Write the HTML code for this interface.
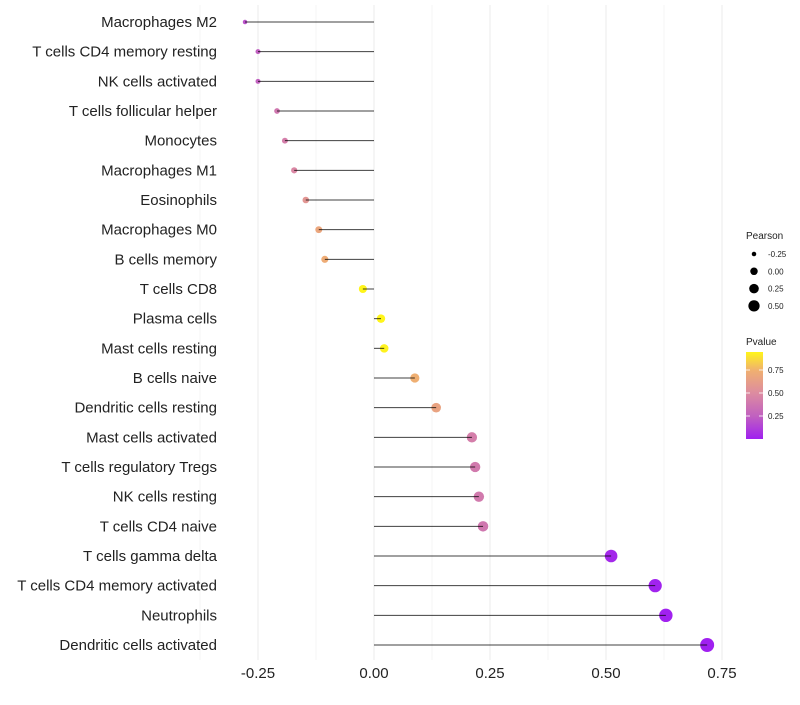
<!DOCTYPE html>
<html><head><meta charset="utf-8"><style>
body{margin:0;background:#fff;font-family:"Liberation Sans",sans-serif}
</style></head><body>
<svg id="chart" width="800" height="700" xmlns="http://www.w3.org/2000/svg" font-family="Liberation Sans, sans-serif">
<defs><linearGradient id="pg" x1="0" y1="1" x2="0" y2="0">
<stop offset="0" stop-color="#a020f0"/><stop offset="0.26" stop-color="#c060c0"/><stop offset="0.53" stop-color="#dd8ca0"/><stop offset="0.79" stop-color="#f0b070"/><stop offset="1" stop-color="#fff51a"/></linearGradient></defs>
<g id="grid"></g><g id="dots"></g><g id="marks"></g><g id="labels"></g><g id="ticks"></g>
<g>
<text x="746" y="239" font-size="10" fill="#222">Pearson</text>
<g id="sizeLegend"></g>
<text x="746" y="345" font-size="10" fill="#222">Pvalue</text>
<rect x="746" y="352" width="17" height="87" fill="url(#pg)"/>
<g id="colorLegend"></g>
</g>
</svg>
<script>
const categories=["Macrophages M2","T cells CD4 memory resting","NK cells activated","T cells follicular helper","Monocytes","Macrophages M1","Eosinophils","Macrophages M0","B cells memory","T cells CD8","Plasma cells","Mast cells resting","B cells naive","Dendritic cells resting","Mast cells activated","T cells regulatory  Tregs ","NK cells resting","T cells CD4 naive","T cells gamma delta","T cells CD4 memory activated","Neutrophils","Dendritic cells activated"];
const pearson=[-0.278,-0.25,-0.25,-0.209,-0.192,-0.172,-0.147,-0.119,-0.106,-0.024,0.015,0.022,0.088,0.134,0.211,0.218,0.226,0.235,0.511,0.606,0.629,0.718];
const pvalue=[0.2,0.25,0.26,0.38,0.42,0.47,0.57,0.68,0.72,0.95,0.96,0.94,0.74,0.66,0.42,0.4,0.4,0.38,0.03,0.01,0.005,0.001];
const xTicks=[-0.25,0,0.25,0.5,0.75];
const xTickLabels=["-0.25","0.00","0.25","0.50","0.75"];
const sizeBreaks=[-0.25,0,0.25,0.5];
const colorBreaks=[0.25,0.5,0.75];
const NS="http://www.w3.org/2000/svg";
const X=v=>374+v*464;
const Y=i=>22+i*(623/21);
const R=v=>Math.sqrt(Math.max(2.25,17.25+44*v));
const CY=p=>439-p*92;
const stops=[[0,[160,32,240]],[0.25,[192,96,192]],[0.5,[221,140,160]],[0.75,[240,176,112]],[0.95,[255,245,26]]];
function col(p){p=Math.max(0,Math.min(0.95,p));for(let k=1;k<stops.length;k++){if(p<=stops[k][0]){const a=stops[k-1],b=stops[k],t=(p-a[0])/(b[0]-a[0]);return "rgb("+a[1].map((c,j)=>Math.round(c+(b[1][j]-c)*t)).join(",")+")";}}return "rgb(255,245,26)";}
function mk(t,at,parent){const e=document.createElementNS(NS,t);for(const k in at)e.setAttribute(k,at[k]);document.getElementById(parent).appendChild(e);return e;}
for(let g=-0.375;g<=0.75;g+=0.125){const l=mk("line",{x1:X(g),x2:X(g),y1:5,y2:660,stroke:"#ebebeb","stroke-width":Math.abs(g*4-Math.round(g*4))<1e-6?1:0.5},"grid");

}
categories.forEach((c,i)=>{
const d=mk("circle",{cx:X(pearson[i]),cy:Y(i),r:R(pearson[i]),fill:col(pvalue[i])},"dots");


const s=mk("line",{x1:X(0),x2:X(pearson[i]),y1:Y(i),y2:Y(i),stroke:"#000","stroke-width":1,"stroke-opacity":0.75},"marks");


const t=mk("text",{x:217,y:Y(i)+5,"text-anchor":"end","font-size":15,fill:"#222"},"labels");t.textContent=c;


});
xTicks.forEach((v,i)=>{const t=mk("text",{x:X(v),y:678,"text-anchor":"middle","font-size":15,fill:"#222"},"ticks");t.textContent=xTickLabels[i];

});
sizeBreaks.forEach((v,i)=>{const y=254+i*17.3;
const c=mk("circle",{cx:754,cy:y,r:R(v)*0.9,fill:"#000"},"sizeLegend");


const t=mk("text",{x:768,y:y+3,"font-size":8,fill:"#222"},"sizeLegend");t.textContent=v.toFixed(2);

});
colorBreaks.forEach(v=>{const y=CY(v);
mk("line",{x1:746,x2:750,y1:y,y2:y,stroke:"#fff","stroke-width":0.8},"colorLegend");
mk("line",{x1:759,x2:763,y1:y,y2:y,stroke:"#fff","stroke-width":0.8},"colorLegend");
const t=mk("text",{x:768,y:y+3,"font-size":8,fill:"#222"},"colorLegend");t.textContent=v.toFixed(2);

});
</script>
</body></html>
